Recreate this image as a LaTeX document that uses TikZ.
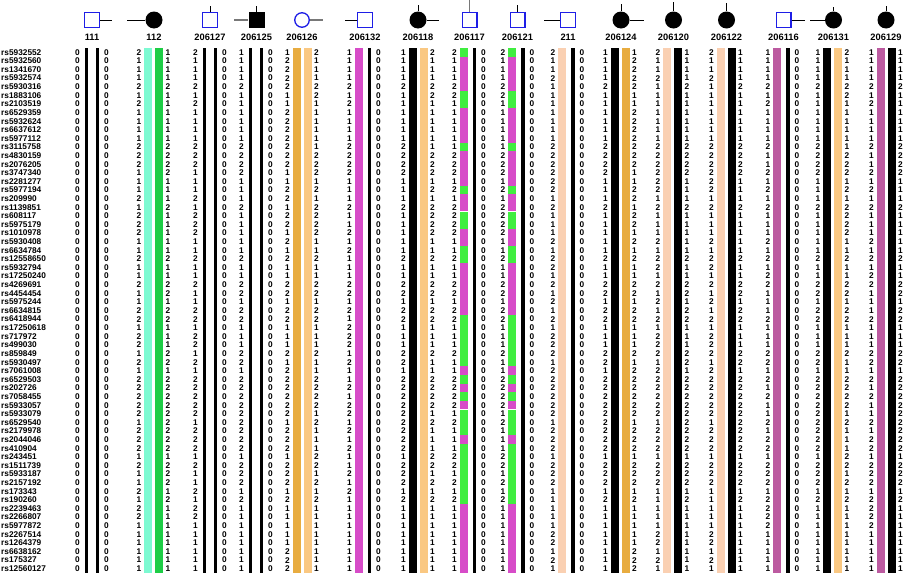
\documentclass[tikz,border=0pt]{standalone}
\usepackage{fontspec}
\setmainfont{Liberation Sans}
\usetikzlibrary{positioning}
\definecolor{maleblue}{RGB}{30,30,230}
\definecolor{aqua}{RGB}{125,250,210}
\definecolor{leafgreen}{RGB}{30,205,70}
\definecolor{seggreen}{RGB}{64,238,64}
\definecolor{segmag}{RGB}{215,76,200}
\definecolor{deeporange}{RGB}{232,172,64}
\definecolor{softorange}{RGB}{250,200,130}
\definecolor{peach}{RGB}{250,208,178}
\definecolor{plum}{RGB}{188,90,160}
\definecolor{stubgray}{RGB}{120,120,120}

\newcommand{\numfont}{\fontsize{8.3}{8.3}\selectfont\bfseries}
\newcommand{\idfont}{\fontsize{9.3}{9.3}\selectfont\bfseries}

% alleles per haplotype, rows 1-61
\def\hapZ{0,0,0,0,0,0,0,0,0,0,0,0,0,0,0,0,0,0,0,0,0,0,0,0,0,0,0,0,0,0,%
0,0,0,0,0,0,0,0,0,0,0,0,0,0,0,0,0,0,0,0,0,0,0,0,0,0,0,0,0,0,0}
\def\hapB{1,1,1,1,2,1,1,1,1,1,1,2,2,2,%
2,1,1,1,2,1,1,1,1,1,2,1,1,2,2,%
1,2,2,1,1,1,2,2,1,2,2,2,2,2,2,2,%
2,2,1,2,2,2,1,2,1,1,1,1,1,1,1,1}
\def\hapA{2,1,1,1,2,1,2,1,1,1,1,2,2,2,%
1,1,1,2,1,2,2,2,1,1,2,1,1,2,1,%
1,2,2,1,2,2,1,2,1,2,2,2,2,2,1,2,%
2,2,1,2,1,1,2,1,2,2,1,1,1,1,1,1}
\def\hapO{1,2,2,2,2,1,1,2,2,2,2,2,2,2,%
1,1,2,2,1,2,2,1,2,1,2,1,1,2,2,%
1,2,2,1,1,1,2,1,2,2,2,2,2,2,1,2,%
2,2,1,2,2,2,1,2,1,1,1,1,1,2,2,2}
\def\hapL{2,1,1,1,2,2,1,1,1,1,1,1,2,2,%
2,1,2,1,2,2,2,2,1,1,2,1,1,2,2,%
1,2,2,1,1,1,2,1,1,2,2,2,2,1,2,1,%
1,1,2,2,1,2,1,2,1,1,1,1,1,1,1,1}
\def\hapP{2,1,1,2,1,1,1,1,1,1,1,2,2,2,%
2,2,2,1,2,1,1,1,2,1,2,2,1,2,1,%
2,1,2,1,2,2,2,1,2,2,2,2,2,2,1,2,%
2,2,1,2,2,2,1,1,1,1,1,2,2,1,2,1}
\def\hapM{1,1,1,1,2,1,2,1,1,1,1,2,2,2,%
2,1,1,1,2,1,1,2,1,2,1,1,1,2,2,%
1,2,1,2,2,2,1,2,1,1,2,1,2,2,1,2,%
1,2,1,1,2,1,2,1,1,1,1,1,1,1,1,1}
\def\hapU{1,1,1,1,2,1,2,1,1,1,1,2,1,1,%
2,1,2,1,2,1,1,1,2,1,2,1,2,2,1,%
1,1,2,1,1,1,2,2,1,2,1,2,1,1,2,1,%
2,2,1,2,2,2,1,2,2,2,2,1,1,1,1,1}

\tikzset{
  num/.style={font=\numfont, inner sep=0pt},
  snp/.style={font=\numfont, anchor=west, inner sep=0pt},
  idlabel/.style={font=\idfont, inner sep=0pt},
  male/.style={draw=maleblue, line width=1.3pt, fill=white, minimum size=14.7pt, inner sep=0pt},
  affmale/.style={fill=black, minimum size=16pt, inner sep=0pt},
  female/.style={circle, fill=black, minimum size=17pt, inner sep=0pt},
  openfemale/.style={circle, draw=maleblue, line width=1.3pt, fill=white, minimum size=14.5pt, inner sep=0pt},
  stub/.style={line width=0.8pt},
  graystub/.style={draw=stubgray, line width=1.3pt},
  hapbar/.style={inner sep=0pt, minimum width=8pt, minimum height=525pt, fill=#1},
  nullbar/.style={hapbar=black, minimum width=3.2pt},
  aquabar/.style={hapbar=aqua},
  greenbar/.style={hapbar=leafgreen},
  orangebar/.style={hapbar=deeporange},
  lorangebar/.style={hapbar=softorange},
  magentabar/.style={hapbar=segmag},
  blackbar/.style={hapbar=black},
  peachbar/.style={hapbar=peach},
  purplebar/.style={hapbar=plum},
  segbar/.style={hapbar=white}
}

\begin{document}
\begin{tikzpicture}[x=1pt, y=-1pt]
  \fill[white] (0,0) rectangle (903,573);
  \useasboundingbox (0,0) rectangle (903,573);

  % pedigree symbols
  \node[male]       (s111)    at (92,20)    {};
  \node[female]     (s112)    at (154,20)   {};
  \node[male]       (s206127) at (210,20)   {};
  \node[affmale]    (s206125) at (256.5,20) {};
  \node[openfemale] (s206126) at (302,20)   {};
  \node[male]       (s206132) at (365,20)   {};
  \node[female]     (s206118) at (418,20)   {};
  \node[male]       (s206117) at (469.5,20) {};
  \node[male]       (s206121) at (517.5,20) {};
  \node[male]       (s211)    at (568,20)   {};
  \node[female]     (s206124) at (621,20)   {};
  \node[female]     (s206120) at (673.5,20) {};
  \node[female]     (s206122) at (726.5,20) {};
  \node[male]       (s206116) at (783.5,20) {};
  \node[female]     (s206131) at (833.5,20) {};
  \node[female]     (s206129) at (886,20)   {};

  \draw[stub] (s111.east) -- ++(12,0);
  \draw[stub] (s112.west) -- ++(-18,0);
  \draw[stub] (s206127.north) -- ++(0,-6);
  \draw[graystub] (s206125.west) -- ++(-14,0);
  \draw[stub] (s206125.north) -- ++(0,-6);
  \draw[graystub] (s206126.east) -- ++(13,0);
  \draw[stub] (s206132.west) -- ++(-12,0);
  \draw[stub] (s206118.north) -- ++(0,-6);
  \draw[stub] (s206118.east) -- ++(12,0);
  \draw[graystub, line width=1.6pt] (s206117.north) -- ++(0,-13);
  \draw[stub] (s206121.north) -- ++(0,-7);
  \draw[stub] (s211.west) -- ++(-16,0);
  \draw[stub] (s206124.north) -- ++(0,-7);
  \draw[stub] (s206124.east) -- ++(14,0);
  \draw[stub] (s206120.north) -- ++(0,-9);
  \draw[stub] (s206122.north) -- ++(0,-8);
  \draw[stub] (s206116.east) -- ++(13,0);
  \draw[stub] (s206131.west) -- ++(-15,0);
  \draw[stub] (s206131.north) -- ++(0,-4);
  \draw[stub] (s206129.north) -- ++(0,-5);

  \foreach \id in {111,112,206127,206125,206126,206132,206118,206117,206121,211,206124,206120,206122,206116,206131,206129}
    \node[idlabel] (lab\id) at (s\id |- 0,37) {\id};

  % haplotype bars
  \foreach \id/\c/\kl/\kr in {111/92/nullbar/nullbar, 112/153.5/aquabar/greenbar,
      206127/210/nullbar/nullbar, 206125/256/nullbar/nullbar, 206126/302/orangebar/lorangebar,
      206132/364/magentabar/nullbar, 206118/418/blackbar/lorangebar, 206117/469/segbar/nullbar,
      206121/517.5/segbar/nullbar, 211/567.5/peachbar/nullbar, 206124/620/blackbar/orangebar,
      206120/672.5/peachbar/blackbar, 206122/726/peachbar/blackbar, 206116/782.5/purplebar/nullbar,
      206131/832.5/blackbar/lorangebar, 206129/886/purplebar/blackbar}{
    \node[\kl] (bar\id-l) at (\c-5.5,310.5) {};
    \node[\kr] (bar\id-r) at (\c+5.5,310.5) {};
  }
  \foreach \c in {469,517.5}
    \foreach \a/\b/\col in {1/1/seggreen, 2/5/segmag, 6/7/seggreen, 8/11/segmag, 12/12/seggreen,
        13/16/segmag, 17/17/seggreen, 18/19/segmag, 20/21/seggreen, 22/23/segmag, 24/25/seggreen,
        26/31/segmag, 32/37/seggreen, 38/38/segmag, 39/39/seggreen, 40/40/segmag, 41/41/seggreen,
        42/42/segmag, 43/45/seggreen, 46/46/segmag, 47/53/seggreen, 54/61/segmag}
      \fill[\col] (\c-9.5,39.4+8.607*\a) rectangle (\c-1.5,47.9+8.607*\b);

  % SNP names
  \foreach \s [count=\r] in {rs5932552,rs5932560,rs1341670,rs5932574,rs5930316,rs1883106,
      rs2103519,rs6529359,rs5932624,rs6637612,rs5977112,rs3115758,rs4830159,rs2076205,
      rs3747340,rs2281277,rs5977194,rs209990,rs1139851,rs608117,rs5975179,rs1010978,
      rs5930408,rs6634784,rs12558650,rs5932794,rs17250240,rs4269691,rs4454454,rs5975244,
      rs6634815,rs6418944,rs17250618,rs717972,rs499030,rs859849,rs5930497,rs7061008,
      rs6529503,rs202726,rs7058455,rs5933057,rs5933079,rs6529540,rs2179978,rs2044046,
      rs410904,rs243451,rs1511739,rs5933187,rs2157192,rs173343,rs190260,rs2239463,
      rs2266807,rs5977872,rs2267514,rs1264379,rs6638162,rs175327,rs12560127}
    \node[snp] (snp\r) at (1,43.7+8.607*\r) {\s};

  % genotypes
  \foreach \id/\c/\hl/\hr in {111/92/Z/Z, 112/153.5/A/B, 206127/210/A/Z, 206125/256/B/Z,
      206126/302/O/L, 206132/364/M/Z, 206118/418/B/L, 206117/469/L/Z, 206121/517.5/L/Z,
      211/567.5/P/Z, 206124/620/B/O, 206120/672.5/P/B, 206122/726/P/B, 206116/782.5/U/Z,
      206131/832.5/B/L, 206129/886/U/B}{
    \edef\lefthap{\csname hap\hl\endcsname}
    \edef\righthap{\csname hap\hr\endcsname}
    \foreach \v [count=\r] in \lefthap
      \node[num] (g\id-l\r) at (\c-14.5,43.7+8.607*\r) {\v};
    \foreach \v [count=\r] in \righthap
      \node[num] (g\id-r\r) at (\c+14.5,43.7+8.607*\r) {\v};
  }
\end{tikzpicture}
\end{document}
